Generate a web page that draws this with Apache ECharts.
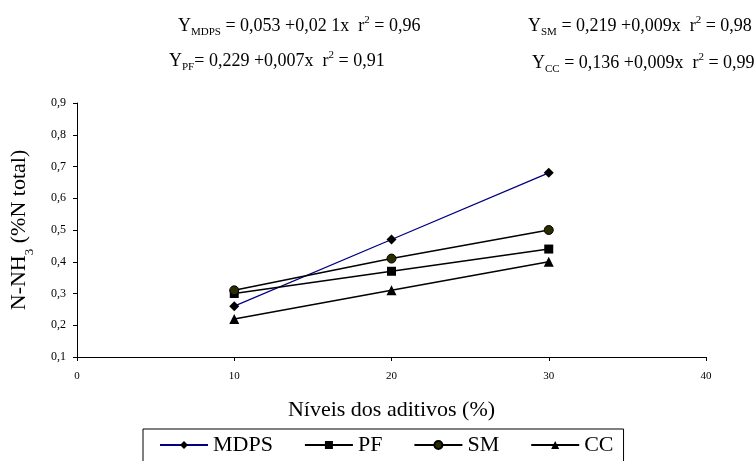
<!DOCTYPE html>
<html><head><meta charset="utf-8">
<script src="https://cdn.jsdelivr.net/npm/echarts@6/dist/echarts.min.js"></script>
<style>html,body{margin:0;padding:0;background:#fff}#c{width:755px;height:461px}</style>
</head><body><div id="c"></div>
<script>
const xLevels = [10, 20, 30];
const seriesNames = ['MDPS', 'PF', 'SM', 'CC'];
const mdps = [0.26, 0.47, 0.68];
const pf = [0.30, 0.37, 0.44];
const sm = [0.31, 0.41, 0.50];
const cc = [0.22, 0.31, 0.40];
const xTicks = [0, 10, 20, 30, 40];
const yTicks = [0.1, 0.2, 0.3, 0.4, 0.5, 0.6, 0.7, 0.8, 0.9];

const F = 'Liberation Serif, Times New Roman, serif';
const chart = echarts.init(document.getElementById('c'));
function pairs(v){ return xLevels.map((x,i)=>[x,v[i]]); }
const eqRich = {
  n:{fontFamily:F,fontSize:18,color:'#000'},
  s:{fontFamily:F,fontSize:11,color:'#000',verticalAlign:'bottom',padding:[0,0,-3,0]},
  p:{fontFamily:F,fontSize:11,color:'#000',verticalAlign:'top',padding:[-2,0,0,0]}
};
function eq(x,y,sub,rest){
  return {type:'text',left:x,top:y,style:{text:'{n|Y}{s|'+sub+'}{n|'+rest[0]+'}{p|2}{n|'+rest[1]+'}',rich:eqRich}};
}
chart.setOption({
  animation:false,
  grid:{left:77,right:49,top:103,bottom:104},
  graphic:[
    eq(178,15,'MDPS',[' = 0,053 +0,02 1x  r',' = 0,96']),
    eq(169,50,'PF',['= 0,229 +0,007x  r',' = 0,91']),
    eq(528,15,'SM',[' = 0,219 +0,009x  r',' = 0,98']),
    eq(532,52,'CC',[' = 0,136 +0,009x  r',' = 0,99'])
  ],
  legend:{
    data:seriesNames, top:429, left:143,
    borderColor:'#000',borderWidth:1,borderRadius:0,
    padding:[5,10,20,16], itemGap:31, itemWidth:48, itemHeight:10,
    textStyle:{fontFamily:F,fontSize:22,color:'#000'}
  },
  xAxis:{
    type:'value',min:0,max:40,interval:10,
    name:'Níveis dos aditivos (%)',nameLocation:'middle',nameGap:42,
    nameTextStyle:{fontFamily:F,fontSize:22,color:'#000'},
    axisLine:{lineStyle:{color:'#000',width:1}},
    axisTick:{show:true,length:4,lineStyle:{color:'#000'}},
    axisLabel:{fontFamily:F,fontSize:11,color:'#000',margin:14,formatter:v=>xTicks.includes(v)?String(v):''},
    splitLine:{show:false}
  },
  yAxis:{
    type:'value',min:0.1,max:0.9,interval:0.1,
    name:'{a|N-NH}{b|3}{a| (%N total)}',nameLocation:'middle',nameGap:47,nameRotate:90,
    nameTextStyle:{rich:{a:{fontFamily:F,fontSize:22,color:'#000'},b:{fontFamily:F,fontSize:13,color:'#000',verticalAlign:'bottom',padding:[0,0,-6,0]}}},
    axisLine:{show:true,lineStyle:{color:'#000',width:1}},
    axisTick:{show:true,length:4,lineStyle:{color:'#000'}},
    axisLabel:{fontFamily:F,fontSize:12,color:'#000',margin:11,formatter:v=>{const t=yTicks.find(k=>Math.abs(k-v)<1e-6);return t===undefined?'':t.toFixed(1).replace('.',',');}},
    splitLine:{show:false}
  },
  series:[
    {name:'MDPS',type:'line',data:pairs(mdps),symbol:'diamond',symbolSize:10,lineStyle:{color:'#000080',width:1.3},itemStyle:{color:'#000'},color:'#000080'},
    {name:'PF',type:'line',data:pairs(pf),symbol:'rect',symbolSize:9,lineStyle:{color:'#000',width:1.5},itemStyle:{color:'#000'}},
    {name:'SM',type:'line',data:pairs(sm),symbol:'circle',symbolSize:9,lineStyle:{color:'#000',width:1.5},itemStyle:{color:'#2b2b00',borderColor:'#000',borderWidth:1}},
    {name:'CC',type:'line',data:pairs(cc),symbol:'triangle',symbolSize:10,lineStyle:{color:'#000',width:1.5},itemStyle:{color:'#000'}}
  ]
});
</script></body></html>
